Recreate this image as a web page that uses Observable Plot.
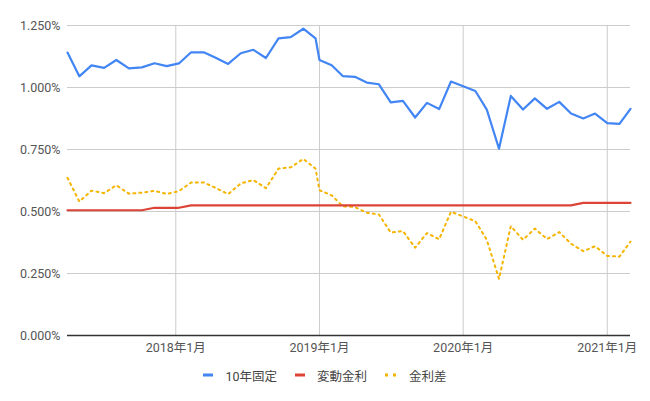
<!DOCTYPE html>
<html>
<head>
<meta charset="utf-8">
<script src="https://cdn.jsdelivr.net/npm/d3@7"></script>
<script src="https://cdn.jsdelivr.net/npm/@observablehq/plot@0.6"></script>
<style>
  body { margin: 0; background: #fff; font-family: Roboto, "Noto Sans CJK JP", sans-serif; }
  #chart svg { display: block; }
  #legend { display: flex; justify-content: center; align-items: center; height: 16px; margin-top: 5px; font-size: 12.5px; color: #444; }
  .item { display: flex; align-items: center; margin: 0 9px; }
  .item svg { margin-right: 12px; display: block; }
</style>
</head>
<body>
<div id="chart"></div>
<div id="legend"></div>
<script>
const dates = [
  "2017-04-01","2017-05-01","2017-06-01","2017-07-03","2017-08-03","2017-09-04","2017-10-07","2017-11-08","2017-12-09",
  "2018-01-09","2018-02-09","2018-03-13","2018-04-11","2018-05-14","2018-06-15","2018-07-17","2018-08-18","2018-09-19","2018-10-20","2018-11-21","2018-12-22",
  "2019-01-01","2019-02-01","2019-03-01","2019-04-01","2019-05-01","2019-06-01","2019-07-01","2019-08-01","2019-09-01","2019-10-01","2019-11-01","2019-12-01",
  "2020-01-01","2020-02-01","2020-03-01","2020-04-01","2020-05-01","2020-06-01","2020-07-01","2020-08-01","2020-09-01","2020-10-01","2020-11-01","2020-12-01",
  "2021-01-01","2021-02-01","2021-03-01"
];
const fixed10 = [
  1.141,1.045,1.089,1.079,1.111,1.077,1.081,1.098,1.086,
  1.097,1.142,1.142,1.121,1.095,1.138,1.152,1.119,1.198,1.203,1.237,1.198,
  1.111,1.090,1.046,1.043,1.020,1.013,0.940,0.946,0.879,0.938,0.913,1.024,
  1.005,0.986,0.911,0.753,0.966,0.911,0.956,0.914,0.942,0.895,0.875,0.895,
  0.856,0.853,0.914
];
const variable = [
  0.505,0.505,0.505,0.505,0.505,0.505,0.505,0.515,0.515,
  0.515,0.525,0.525,0.525,0.525,0.525,0.525,0.525,0.525,0.525,0.525,0.525,
  0.525,0.525,0.525,0.525,0.525,0.525,0.525,0.525,0.525,0.525,0.525,0.525,
  0.525,0.525,0.525,0.525,0.525,0.525,0.525,0.525,0.525,0.525,0.535,0.535,
  0.535,0.535,0.535
];
const spread = [
  0.636,0.540,0.584,0.574,0.606,0.572,0.576,0.583,0.571,
  0.582,0.617,0.617,0.596,0.570,0.613,0.627,0.594,0.673,0.678,0.712,0.673,
  0.586,0.565,0.521,0.518,0.495,0.488,0.415,0.421,0.354,0.413,0.388,0.499,
  0.480,0.461,0.386,0.228,0.441,0.386,0.431,0.389,0.417,0.370,0.340,0.360,
  0.321,0.318,0.379
];
const seriesNames = ["10年固定", "変動金利", "金利差"];
const seriesColors = ["#4285f4", "#db4437", "#f4b400"];
const yTicks = [0, 0.25, 0.5, 0.75, 1, 1.25];
const xTickLabels = ["2018-01-01", "2019-01-01", "2020-01-01", "2021-01-01"];

const parse = d3.utcParse("%Y-%m-%d");
const allSeries = [fixed10, variable, spread];
const rows = [];
allSeries.forEach((vals, si) => vals.forEach((v, i) => rows.push({date: parse(dates[i]), value: v, series: seriesNames[si]})));
const xTicks = xTickLabels.map(parse);
const font = 'Roboto, "Noto Sans CJK JP", sans-serif';

const chart = Plot.plot({
  width: 650,
  height: 362,
  marginLeft: 67,
  marginRight: 20,
  marginTop: 25,
  marginBottom: 27,
  style: {fontFamily: font, fontSize: "12px", color: "#555", background: "#fff"},
  x: {type: "utc", domain: [parse(dates[0]), parse(dates[dates.length - 1])]},
  y: {domain: [0, 1.25]},
  color: {domain: seriesNames, range: seriesColors},
  marks: [
    Plot.gridY(yTicks, {stroke: "#cccccc", strokeOpacity: 1}),
    Plot.gridX(xTicks, {stroke: "#cccccc", strokeOpacity: 1}),
    Plot.axisY(yTicks, {tickSize: 0, tickPadding: 7, tickFormat: d => d.toFixed(3) + "%", label: null, fontSize: 12.5}),
    Plot.axisX(xTicks, {tickSize: 0, tickPadding: 8, tickFormat: d => `${d.getUTCFullYear()}年${d.getUTCMonth() + 1}月`, label: null, fontSize: 12.5}),
    Plot.ruleY([0], {stroke: "#333", strokeWidth: 1.5}),
    Plot.line(rows.filter(r => r.series === seriesNames[2]), {x: "date", y: "value", stroke: "series", strokeWidth: 2, strokeDasharray: "2,4"}),
    Plot.line(rows.filter(r => r.series === seriesNames[1]), {x: "date", y: "value", stroke: "series", strokeWidth: 2.2}),
    Plot.line(rows.filter(r => r.series === seriesNames[0]), {x: "date", y: "value", stroke: "series", strokeWidth: 2.2})
  ]
});
document.getElementById("chart").appendChild(chart);

const legend = document.getElementById("legend");
seriesNames.forEach((name, i) => {
  const item = document.createElement("div");
  item.className = "item";
  const sw = i === 2
    ? `<svg width="12" height="4"><rect x="0" y="0.5" width="3" height="3" fill="${seriesColors[i]}"/><rect x="8" y="0.5" width="3" height="3" fill="${seriesColors[i]}"/></svg>`
    : `<svg width="10" height="4"><rect x="0" y="0.5" width="10" height="3" fill="${seriesColors[i]}"/></svg>`;
  item.innerHTML = sw + `<span>${name}</span>`;
  legend.appendChild(item);
});
</script>
</body>
</html>
